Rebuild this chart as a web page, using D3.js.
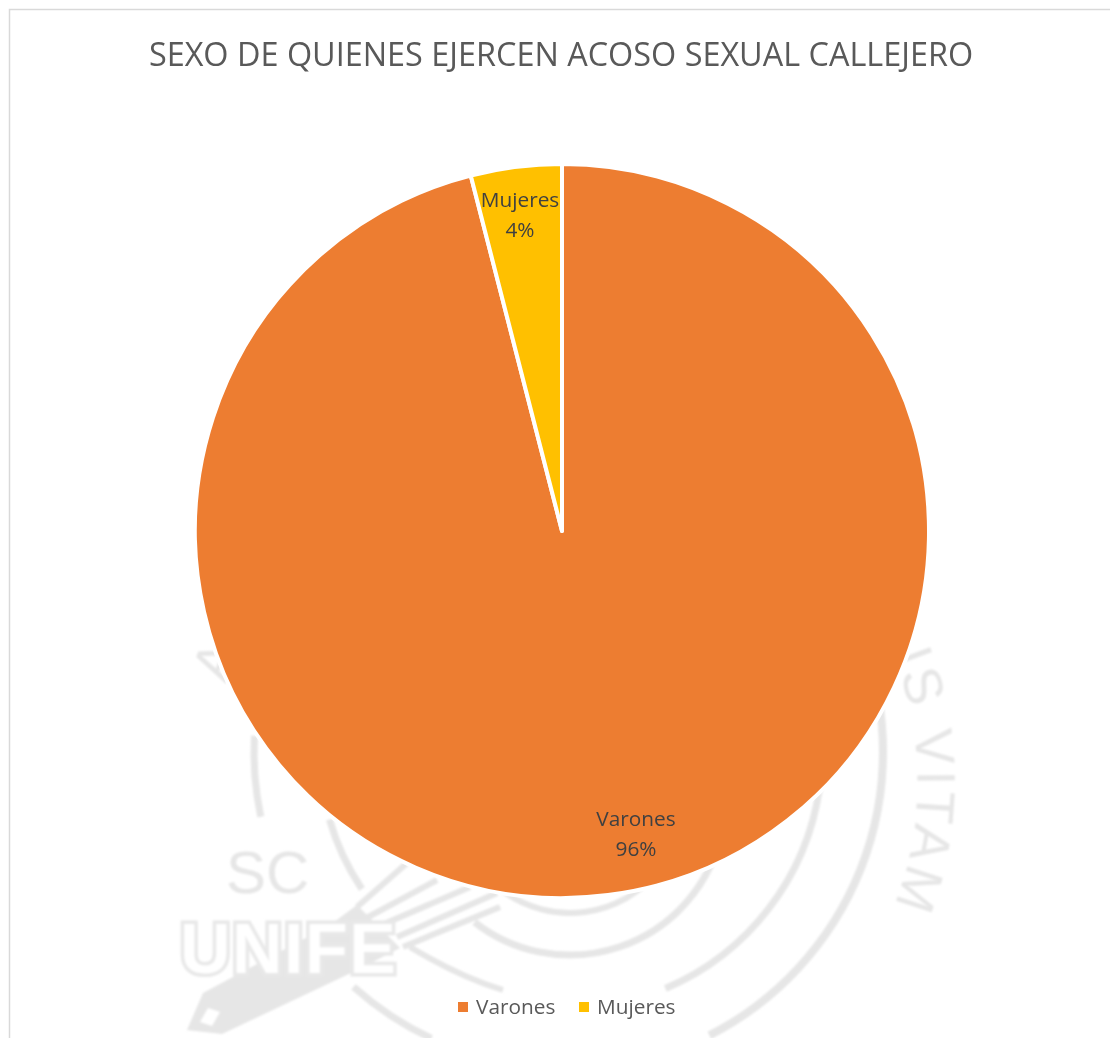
<!DOCTYPE html>
<html><head><meta charset="utf-8">
<script src="https://cdn.jsdelivr.net/npm/d3@7"></script>
<style>html,body{margin:0;padding:0;background:#fff}svg{display:block}</style>
</head><body><div id="c"></div>
<script>
const categories = ["Varones", "Mujeres"];
const values = [96, 4];
const colors = ["#ED7D31", "#FFC000"];
const titleText = "SEXO DE QUIENES EJERCEN ACOSO SEXUAL CALLEJERO";

const W = 1110, H = 1038, cx = 562, cy = 531, R = 367;
const font = "'Open Sans', sans-serif";
const svg = d3.select("#c").append("svg").attr("width", W).attr("height", H);
const defs = svg.append("defs");
defs.append("filter").attr("id","soft").append("feGaussianBlur").attr("stdDeviation",0.8);
defs.append("path").attr("id","ringText").attr("d","M891,650A338,338 0 0 1 878,940");

// frame
svg.append("path").attr("d", `M9.5,${H}V9.5H${W}`).attr("fill", "none").attr("stroke", "#d9d9d9").attr("stroke-width", 1.5);

// watermark seal (background decoration)
const wmc = "#e6e6e6";
const wmAll = svg.append("g").attr("filter","url(#soft)");
const wm = wmAll.append("g").attr("fill", "none").attr("stroke", wmc);
const arcs = [
  {c:[565,752], r:318, a0:70, a1:153, w:8},
  {c:[565,752], r:316, a0:205, a1:222, w:7},
  {c:[565,752], r:311, a0:258, a1:273, w:7},
  {c:[565,752], r:257, a0:98, a1:157, w:7},
  {c:[565,752], r:245, a0:236, a1:254, w:7},
  {c:[570,800], r:155, a0:105, a1:218, w:7},
  {c:[570,800], r:113, a0:130, a1:215, w:6}
];
const arcGen = d3.arc();
arcs.forEach(d => {
  const rad = Math.PI / 180;
  wm.append("path")
    .attr("transform", `translate(${d.c})`)
    .attr("d", arcGen({innerRadius:d.r, outerRadius:d.r, startAngle:d.a0*rad, endAngle:d.a1*rad}))
    .attr("stroke-width", d.w);
});
// pen body, nib hole and barbs
wmAll.append("path").attr("d","M187,1030L203,993L330,925L357,905L400,948L353,972L222,1034Z").attr("fill",wmc);
wmAll.append("path").attr("d","M200,1022L208,1008L220,1012L212,1026Z").attr("fill","#fff");
[[357,907,407,863],[357,923,437,880],[377,927,470,887],[397,937,497,893],[403,947,500,907]].forEach(p =>
  wm.append("path").attr("d",`M${p[0]},${p[1]}L${p[2]},${p[3]}`).attr("stroke-width",6));
wm.append("path").attr("d","M410,947C440,965 470,980 503,990").attr("stroke-width",6);

const serif = "'Liberation Sans',sans-serif";
wmAll.append("text").attr("font-family",serif).attr("font-size",54).attr("letter-spacing",4).attr("fill",wmc)
  .append("textPath").attr("href","#ringText").attr("startOffset","6").text("IS VITAM");
wmAll.append("text").attr("x",226).attr("y",684).attr("font-family",serif).attr("font-size",54)
  .attr("fill",wmc).attr("transform","rotate(-70 226 684)").text("A");
wmAll.append("text").attr("x",226).attr("y",893).attr("font-family",serif).attr("font-size",60)
  .attr("fill",wmc).text("SC");
wmAll.append("text").attr("x",180).attr("y",973).attr("font-family",serif).attr("font-weight","bold")
  .attr("font-size",70).attr("fill","#fff").attr("stroke","#e8e8e8").attr("stroke-width",7)
  .attr("paint-order","stroke").attr("textLength",216).text("UNIFE");

// pie
const pie = d3.pie().sort(null).value(d => d)(values);
const arc = d3.arc().innerRadius(0).outerRadius(R);
const g = svg.append("g").attr("transform", `translate(${cx},${cy})`);
g.selectAll("path").data(pie).join("path")
  .attr("d", arc).attr("fill", (d,i) => colors[i])
  .attr("stroke", "#fff").attr("stroke-width", 4).attr("stroke-linejoin","round");

// data labels
const labelPos = [[636,826],[520,207]];
const lab = svg.append("g").attr("font-family", font).attr("font-size", 20.8).attr("fill", "#404040").attr("text-anchor","middle");
pie.forEach((d,i) => {
  lab.append("text").attr("x",labelPos[i][0]).attr("y",labelPos[i][1]).text(categories[i]);
  lab.append("text").attr("x",labelPos[i][0]).attr("y",labelPos[i][1]+30).text(values[i] + "%");
});

// title
svg.append("text").attr("x",561).attr("y",66).attr("text-anchor","middle").attr("font-family",font)
  .attr("font-size",32.4).attr("fill","#595959").text(titleText);

// legend
const legendPos = [[458,476],[579,597]];
const leg = svg.append("g").attr("font-family",font).attr("font-size",20.8).attr("fill","#595959");
categories.forEach((c,i) => {
  leg.append("rect").attr("x",legendPos[i][0]).attr("y",1002).attr("width",10).attr("height",10).attr("fill",colors[i]);
  leg.append("text").attr("x",legendPos[i][1]).attr("y",1014).text(c);
});
</script></body></html>
